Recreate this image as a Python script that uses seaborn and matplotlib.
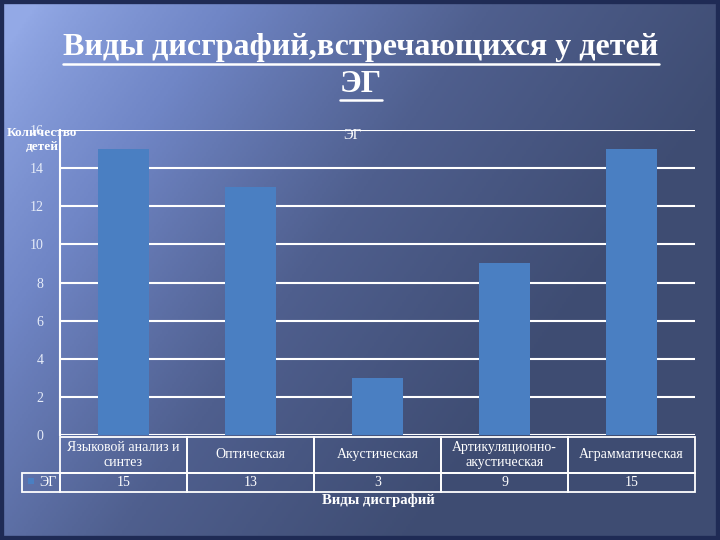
import numpy as np
import pandas as pd
import matplotlib
matplotlib.use("Agg")
import matplotlib.pyplot as plt
import seaborn as sns
from matplotlib.lines import Line2D
from matplotlib.patches import Rectangle
from matplotlib.colors import LinearSegmentedColormap

# --- данные ---
categories = ["Языковой анализ и\nсинтез", "Оптическая", "Акустическая",
              "Артикуляционно-\nакустическая", "Аграмматическая"]
values = [15, 13, 3, 9, 15]
series_name = "ЭГ"
yticks = [0, 2, 4, 6, 8, 10, 12, 14, 16]

df = pd.DataFrame({"cat": categories, "val": values})

sns.set_theme(style="white")
plt.rcParams["font.family"] = ["Liberation Serif", "DejaVu Serif"]

W, H = 720, 540
fig = plt.figure(figsize=(7.2, 5.4), dpi=100)

# --- фон слайда (градиент) ---
bg = fig.add_axes([0, 0, 1, 1], zorder=0)
yy, xx = np.mgrid[0:1:270j, 0:1:360j]
t = np.clip(0.95 * xx + 0.5 * yy - 0.05, 0, 1)
t = t ** 0.8
cmap = LinearSegmentedColormap.from_list("slide", ["#93a9e6", "#7086c6", "#4f5f8e", "#3e4c72"])
bg.imshow(t, cmap=cmap, aspect="auto", extent=[0, 1, 0, 1], origin="upper")
bg.add_patch(Rectangle((0, 0), 1, 1, transform=bg.transAxes, fill=False,
                       edgecolor="#1f2b55", linewidth=6))
bg.set_xlim(0, 1)
bg.set_ylim(0, 1)
bg.axis("off")

# --- область графика ---
left, right, top, bottom = 60, 695, 130, 435
ax = fig.add_axes([left / W, 1 - bottom / H, (right - left) / W, (bottom - top) / H], zorder=2)
ax.patch.set_alpha(0)

sns.barplot(data=df, x="cat", y="val", color="#4a7fc2", saturation=1,
            width=0.4, ax=ax, zorder=3, linewidth=0, edgecolor="none")

ax.set_ylim(0, 16)
ax.set_yticks(yticks)
ax.set_yticklabels([str(v) for v in yticks], color="#e6ecf8", fontsize=10)
ax.tick_params(axis="y", length=0, pad=12)
ax.set_xticks([])
ax.set_xlabel("")
ax.set_ylabel("")
ax.set_xlim(-0.5, 4.5)
for v in yticks:
    ax.axhline(v, color="white", linewidth=1.5, zorder=1)
for s in ["top", "right", "bottom"]:
    ax.spines[s].set_visible(False)
ax.spines["left"].set_color("white")
ax.spines["left"].set_linewidth(1.5)

# --- таблица данных ---
lab_w = 38 / (right - left)
cell_text = [[""] + categories, [series_name] + [str(v) for v in values]]
tab = ax.table(cellText=cell_text, cellLoc="center",
               colWidths=[lab_w] + [1 / 5] * 5,
               bbox=[-lab_w, -57 / (bottom - top), 1 + lab_w, 55 / (bottom - top)])
tab.auto_set_font_size(False)
for (r, c), cell in tab.get_celld().items():
    cell.set_facecolor("none")
    cell.set_edgecolor("white")
    cell.set_linewidth(1.3)
    cell.get_text().set_color("white")
    cell.get_text().set_fontsize(10)
    cell.set_height(0.65 if r == 0 else 0.35)
    if r == 0 and c == 0:
        cell.visible_edges = ""
    if r == 1 and c == 0:
        cell.get_text().set_ha("right")
        cell.PAD = 0.08
fig.patches.append(Rectangle((28 / W, 1 - 484 / H), 6 / W, 6 / H, transform=fig.transFigure,
                             facecolor="#4a7fc2", edgecolor="none", zorder=5))

# --- тексты ---
fig.text(378 / W, 1 - 500 / H, "Виды дисграфий", ha="center", va="center",
         color="white", fontsize=10.5, fontweight="bold")
fig.text(352 / W, 1 - 136 / H, "ЭГ", ha="center", va="center",
         color="white", fontsize=10.5)
fig.text(42 / W, 1 - 140 / H, "Количество\nдетей", ha="center", va="center",
         color="white", fontsize=9.5, fontweight="bold", linespacing=1.25, zorder=6)

t1 = fig.text(361 / W, 1 - 48 / H, "Виды дисграфий,встречающихся у детей", ha="center",
              va="center", color="white", fontsize=23, fontweight="bold")
t2 = fig.text(361 / W, 1 - 84 / H, "ЭГ", ha="center", va="center",
              color="white", fontsize=23, fontweight="bold")

# подчёркивание заголовка
fig.canvas.draw()
renderer = fig.canvas.get_renderer()
for txt, uy in [(t1, 64), (t2, 100)]:
    bb = txt.get_window_extent(renderer)
    fig.add_artist(Line2D([bb.x0 / W, bb.x1 / W], [1 - uy / H, 1 - uy / H],
                          transform=fig.transFigure, color="white", linewidth=1.8))

fig.savefig("out.png", dpi=100)
